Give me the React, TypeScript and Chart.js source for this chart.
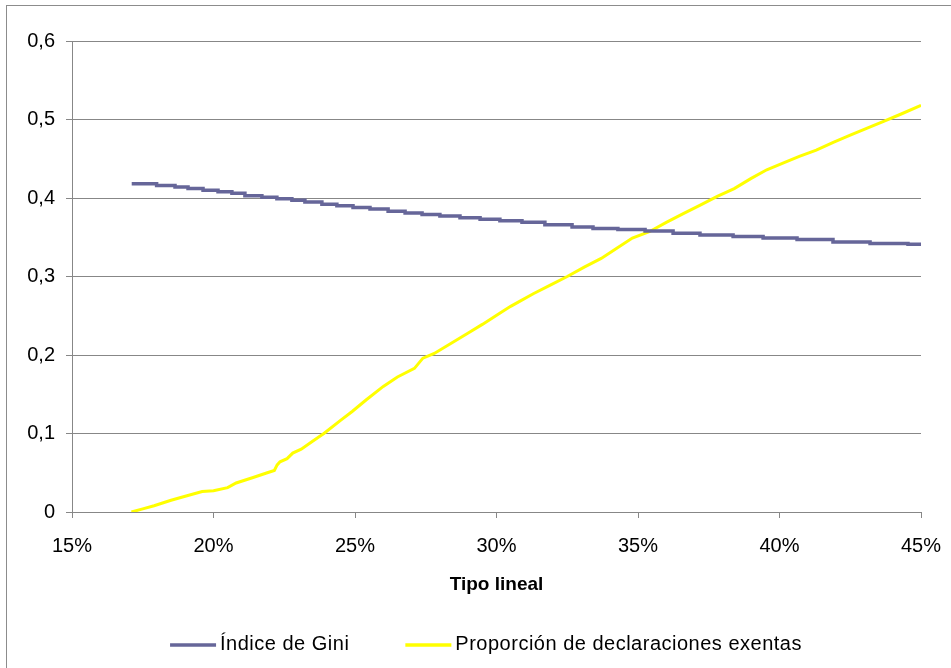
import { useEffect, useRef } from 'react';
import { Chart, registerables } from 'chart.js';

Chart.register(...registerables);

// Índice de Gini: each step starts at the given tipo lineal (%) and holds until the next one
const giniTipo = [
  17.11, 17.99, 18.64, 19.1, 19.63, 20.16, 20.65, 21.11, 21.71, 22.24, 22.77, 23.23, 23.83,
  24.36, 24.93, 25.53, 26.17, 26.77, 27.37, 28.0, 28.71, 29.42, 30.12, 30.9, 31.71, 32.67,
  33.41, 34.29, 35.25, 36.24, 37.19, 38.36, 39.42, 40.62, 41.89, 43.2, 44.54, 45.0,
];
const giniValues = [
  0.418, 0.416, 0.414, 0.412, 0.41, 0.408, 0.406, 0.403, 0.401, 0.399, 0.397, 0.395, 0.392,
  0.39, 0.388, 0.386, 0.383, 0.381, 0.379, 0.377, 0.375, 0.373, 0.371, 0.369, 0.366, 0.363,
  0.361, 0.36, 0.358, 0.355, 0.353, 0.351, 0.349, 0.347, 0.344, 0.342, 0.341, 0.341,
];

// Proporción de declaraciones exentas
const exentasTipo = [
  17.1, 17.5, 17.9, 18.5, 19.0, 19.6, 20.0, 20.5, 20.8, 21.4, 21.9, 22.15, 22.25, 22.35, 22.6,
  22.8, 23.1, 23.5, 23.9, 24.5, 24.9, 25.4, 26.0, 26.5, 27.1, 27.4, 27.8, 28.4, 29.0, 29.5,
  30.1, 30.5, 30.8, 31.3, 31.9, 32.5, 33.1, 33.7, 34.25, 34.8, 35.4, 36.0, 36.6, 37.2, 37.8,
  38.4, 39.0, 39.55, 40.1, 40.7, 41.3, 41.9, 42.5, 43.1, 43.7, 44.3, 45.0,
];
const exentasValues = [
  0.0, 0.004, 0.008, 0.015, 0.02, 0.026, 0.027, 0.031, 0.037, 0.044, 0.05, 0.053, 0.06, 0.064,
  0.068, 0.075, 0.08, 0.09, 0.1, 0.117, 0.128, 0.143, 0.16, 0.172, 0.183, 0.196, 0.202, 0.215,
  0.228, 0.239, 0.253, 0.262, 0.268, 0.278, 0.289, 0.3, 0.312, 0.323, 0.336, 0.349, 0.357,
  0.369, 0.38, 0.391, 0.402, 0.412, 0.425, 0.436, 0.444, 0.453, 0.461, 0.471, 0.48, 0.489,
  0.498, 0.507, 0.518,
];

const seriesLabels = ['Índice de Gini', 'Proporción de declaraciones exentas'];
const xAxisTitle = 'Tipo lineal';

const FONT = '"Liberation Sans", Arial, sans-serif';
const GRID = '#878787';

// Frame, axis title and legend drawn around the plot
const decorPlugin = {
  id: 'decor',
  beforeDraw(chart: any) {
    const ctx = chart.ctx;
    ctx.save();
    ctx.fillStyle = '#ffffff';
    ctx.fillRect(0, 0, chart.width, chart.height);
    ctx.strokeStyle = '#8c8c8c';
    ctx.lineWidth = 1;
    ctx.strokeRect(6.5, 5.5, chart.width + 20, chart.height + 20);
    ctx.restore();
  },
  afterDraw(chart: any) {
    const ctx = chart.ctx;
    const { left, right, bottom } = chart.chartArea;
    ctx.save();
    ctx.fillStyle = '#000000';

    ctx.font = `bold 19px ${FONT}`;
    ctx.textAlign = 'center';
    ctx.textBaseline = 'alphabetic';
    ctx.fillText(xAxisTitle, (left + right) / 2, bottom + 78);

    ctx.font = `20px ${FONT}`;
    ctx.textAlign = 'left';
    (ctx as any).letterSpacing = '0.5px';
    const lineLen = 46;
    const gapText = 4;
    const gapItem = 56;
    const items = chart.data.datasets.map((ds: any) => ({
      label: ds.label,
      color: ds.borderColor,
      w: ctx.measureText(ds.label).width,
    }));
    const total =
      items.reduce((s: number, it: any) => s + lineLen + gapText + it.w, 0) +
      gapItem * (items.length - 1);
    let x = 486 - total / 2;
    const yLine = bottom + 133;
    items.forEach((it: any) => {
      ctx.strokeStyle = it.color;
      ctx.lineWidth = 3.5;
      ctx.beginPath();
      ctx.moveTo(x, yLine);
      ctx.lineTo(x + lineLen, yLine);
      ctx.stroke();
      x += lineLen + gapText;
      ctx.fillText(it.label, x, yLine + 5);
      x += it.w + gapItem;
    });
    (ctx as any).letterSpacing = '0px';
    ctx.restore();
  },
};

export default function App() {
  const canvasRef = useRef<HTMLCanvasElement | null>(null);

  useEffect(() => {
    const canvas = canvasRef.current;
    if (!canvas) return;
    const chart = new Chart(canvas, {
      type: 'line',
      data: {
        datasets: [
          {
            label: seriesLabels[0],
            data: giniTipo.map((t, i) => ({ x: t, y: giniValues[i] })),
            borderColor: '#666699',
            borderWidth: 3.5,
            pointRadius: 0,
            stepped: true,
            fill: false,
          },
          {
            label: seriesLabels[1],
            data: exentasTipo.map((t, i) => ({ x: t, y: exentasValues[i] })),
            borderColor: '#ffff00',
            borderWidth: 3,
            pointRadius: 0,
            tension: 0,
            fill: false,
          },
        ],
      },
      options: {
        responsive: false,
        animation: false,
        devicePixelRatio: 1,
        layout: { padding: { top: 41, right: 30, left: 0, bottom: 0 } },
        plugins: {
          legend: { display: false },
          tooltip: { enabled: false },
          title: { display: false },
        },
        scales: {
          x: {
            type: 'linear',
            min: 15,
            max: 45,
            afterFit: (s: any) => {
              s.height = 156;
              s.paddingLeft = 0;
              s.paddingRight = 0;
            },
            ticks: {
              stepSize: 5,
              padding: 16,
              color: '#000000',
              font: { family: FONT, size: 20 },
              callback: (v: any) => `${v}%`,
              maxRotation: 0,
            },
            grid: {
              drawOnChartArea: false,
              drawTicks: true,
              tickLength: 6,
              color: GRID,
            },
            border: { display: true, color: GRID },
          },
          y: {
            min: 0,
            max: 0.6,
            afterFit: (s: any) => {
              s.width = 72;
            },
            ticks: {
              stepSize: 0.1,
              padding: 11,
              color: '#000000',
              font: { family: FONT, size: 20 },
              callback: (v: any) => (Number(v) === 0 ? '0' : Number(v).toFixed(1).replace('.', ',')),
            },
            grid: {
              drawOnChartArea: true,
              drawTicks: true,
              tickLength: 6,
              color: GRID,
            },
            border: { display: true, color: GRID },
          },
        },
      },
      plugins: [decorPlugin],
    });
    return () => chart.destroy();
  }, []);

  return (
    <div style={{ position: 'absolute', left: 0, top: 0, width: 951, height: 668 }}>
      <canvas ref={canvasRef} width={951} height={668} style={{ display: 'block' }} />
    </div>
  );
}
